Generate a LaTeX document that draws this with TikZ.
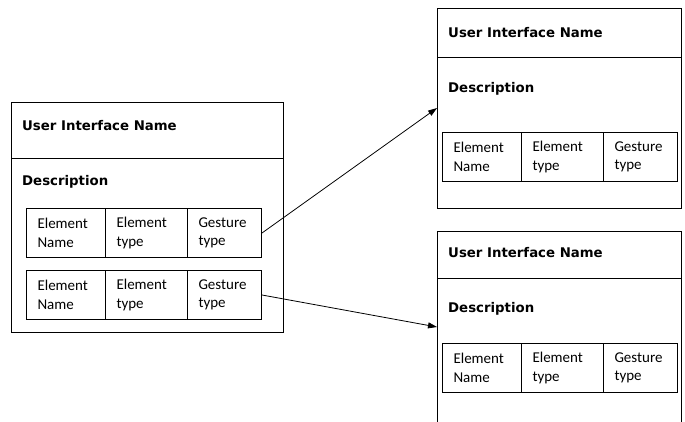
\documentclass[tikz,border=0pt]{standalone}
\usepackage{fontspec}
\setmainfont{Carlito}
\newfontfamily\headfont{DejaVu Sans}
\usetikzlibrary{arrows.meta,positioning}

\tikzset{
  frame/.style={draw=black, line width=1pt, anchor=north west, inner sep=0pt},
  heading/.style={anchor=west, inner sep=0pt, font=\headfont\bfseries\fontsize{13.3}{16}\selectfont},
  cell/.style={draw=black, line width=1pt, anchor=north west, minimum height=49pt,
    inner xsep=11pt, inner ysep=0pt, align=left,
    font=\fontsize{15}{18.5}\selectfont},
  cellA/.style={cell, text width=57pt},
  cellB/.style={cell, text width=60pt},
  cellC/.style={cell, text width=52pt},
  link/.style={draw=black, line width=0.8pt, -{Triangle[length=9pt,width=6pt]}}
}

\begin{document}
\begin{tikzpicture}[x=1pt, y=-1pt]
  \clip (0,0) rectangle (685,422);

  % left screen
  \node[frame, minimum width=272pt, minimum height=230pt] (L) at (11,102) {};
  \draw[line width=0.8pt] (11,158) coordinate (Ld1) -- (283,158) coordinate (Ld2);
  \node[heading] (Lt) at (22,126) {User Interface Name};
  \node[heading] (Ld) at (22,182) {Description};
  \node[cellA] (La1) at (26,208) {Element\\Name};
  \node[cellB] (Lb1) at (105,208) {Element\\type};
  \node[cellC] (Lc1) at (187,208) {Gesture\\type};
  \node[cellA] (La2) at (26,270) {Element\\Name};
  \node[cellB] (Lb2) at (105,270) {Element\\type};
  \node[cellC] (Lc2) at (187,270) {Gesture\\type};

  % upper right screen
  \node[frame, minimum width=244pt, minimum height=200pt] (R1) at (437,8) {};
  \draw[line width=0.8pt] (437,57) -- (681,57);
  \node[heading] (R1t) at (448,33) {User Interface Name};
  \node[heading] (R1d) at (448,89) {Description};
  \node[cellA] (R1a) at (442,132) {Element\\Name};
  \node[cellB] (R1b) at (521,132) {Element\\type};
  \node[cellC] (R1c) at (603,132) {Gesture\\type};

  % lower right screen (runs past the bottom edge)
  \node[frame, minimum width=244pt, minimum height=220pt] (R2) at (437,231) {};
  \draw[line width=0.8pt] (437,278) -- (681,278);
  \node[heading] (R2t) at (448,253) {User Interface Name};
  \node[heading] (R2d) at (448,309) {Description};
  \node[cellA] (R2a) at (442,343) {Element\\Name};
  \node[cellB] (R2b) at (521,343) {Element\\type};
  \node[cellC] (R2c) at (603,343) {Gesture\\type};

  % connectors
  \coordinate (in1) at (437,108);
  \coordinate (in2) at (437,327);
  \draw[link] (Lc1.east) -- (in1);
  \draw[link] (Lc2.east) -- (in2);
\end{tikzpicture}
\end{document}
